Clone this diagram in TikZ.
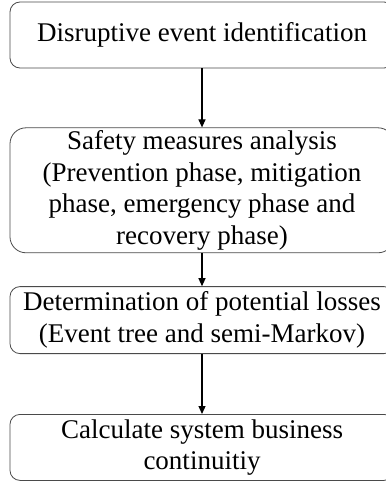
\documentclass[tikz,border=0pt]{standalone}
\usepackage{fontspec}
\setmainfont{Liberation Serif}
\usepackage{xcolor}
\usepackage{tikz}
\usetikzlibrary{arrows.meta,positioning}
\definecolor{edge}{HTML}{4A4A4A}
\tikzset{
  flow/.style={-{Triangle[length=8pt,width=7pt]},line width=1.2pt,draw=black},
  stage/.style={draw=edge,line width=0.8pt,rounded corners=10pt,align=center,
                minimum width=384pt,minimum height=66pt,inner ysep=0pt,
                font=\fontsize{27pt}{31.5pt}\selectfont},
  bigstage/.style={stage,rounded corners=16pt,minimum height=125pt}
}
\begin{document}
\begin{tikzpicture}[x=1pt,y=-1pt]
  \useasboundingbox (0,0) rectangle (385,481);
  \node[stage] (ident) at (202,35) {Disruptive event identification};
  \node[bigstage,below=59pt of ident] (safety) {Safety measures analysis\\(Prevention phase, mitigation\\phase, emergency phase and\\recovery phase)};
  \node[stage,below=33pt of safety,minimum height=67pt] (losses) {Determination of potential losses\\(Event tree and semi-Markov)};
  \node[stage,below=60pt of losses] (contin) {Calculate system business\\continuitiy};
  \draw[flow] (ident)--(safety);
  \draw[flow] (safety)--(losses);
  \draw[flow] (losses)--(contin);
\end{tikzpicture}
\end{document}
